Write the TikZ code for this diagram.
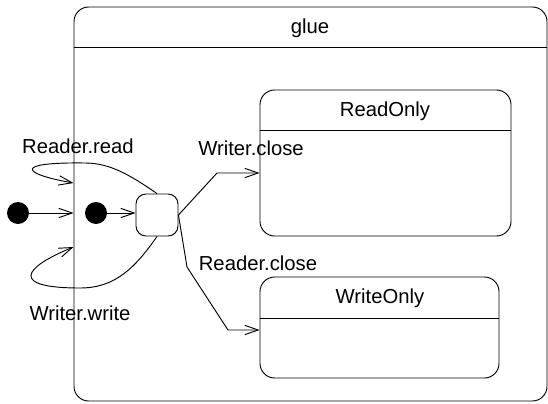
\documentclass[tikz,border=0pt]{standalone}
\usepackage{fontspec}
\setmainfont{Liberation Sans}
\usetikzlibrary{arrows.meta,positioning,calc}
\tikzset{
  state/.style={draw,rounded corners=11pt,inner sep=0pt},
  init/.style={circle,fill=black,minimum size=16.5pt,inner sep=0pt},
  junc/.style={draw,rounded corners=7.5pt,minimum size=31.5pt,inner sep=0pt},
  arr/.style={-{Straight Barb[length=10pt,width=7pt]}},
  lbl/.style={font=\fontsize{15.2}{18}\selectfont,inner sep=1pt}
}

\begin{document}
\begin{tikzpicture}[x=0.75pt,y=-0.75pt,line width=0.7pt]
\useasboundingbox (0,0) rectangle (548,403);
% composite state and its substates
\node[state,minimum width=354.75pt,minimum height=295.5pt] (glue) at (310.5,204) {};
\node[lbl] (gluename) at (310,28) {glue};
\draw (glue.west |- 0,47.5) -- (glue.east |- 0,47.5);
\node[state,minimum width=188.25pt,minimum height=109.5pt] (ro) at (385.5,163) {};
\node[lbl] (roname) at (385,111) {ReadOnly};
\draw (ro.west |- 0,130.5) -- (ro.east |- 0,130.5);
\node[state,minimum width=179.25pt,minimum height=75.75pt] (wo) at (379.5,327.5) {};
\node[lbl] (woname) at (380,298) {WriteOnly};
\draw (wo.west |- 0,318.5) -- (wo.east |- 0,318.5);
% initial states and the choice box
\node[init] (start) at (18,213) {};
\node[init] (inner) at (96,213) {};
\node[junc] (ch) at (157,215) {};
% transitions
\draw[arr] (start) -- (glue.west |- start);
\draw[arr] (inner) -- (ch.west |- inner);
\draw[arr] (ch.north) .. controls (130,175) and (110,163) .. (85,163)
  .. controls (12,162) and (22,174) .. (glue.west |- 0,183);
\draw[arr] (ch.south) .. controls (135,268) and (115,288) .. (80,288)
  .. controls (10,288) and (22,268) .. (glue.west |- 0,247);
\draw[arr] (ch.east) -- (217,173) -- (ro.west |- 0,173);
\draw[arr] (ch.east) -- (187,267) -- (228,330) -- (wo.west |- 0,330);
% labels
\node[lbl] (rread) at (78,146) {Reader.read};
\node[lbl] (wwrite) at (80,313) {Writer.write};
\node[lbl] (wclose) at (251,148) {Writer.close};
\node[lbl] (rclose) at (258,263) {Reader.close};
\end{tikzpicture}
\end{document}
